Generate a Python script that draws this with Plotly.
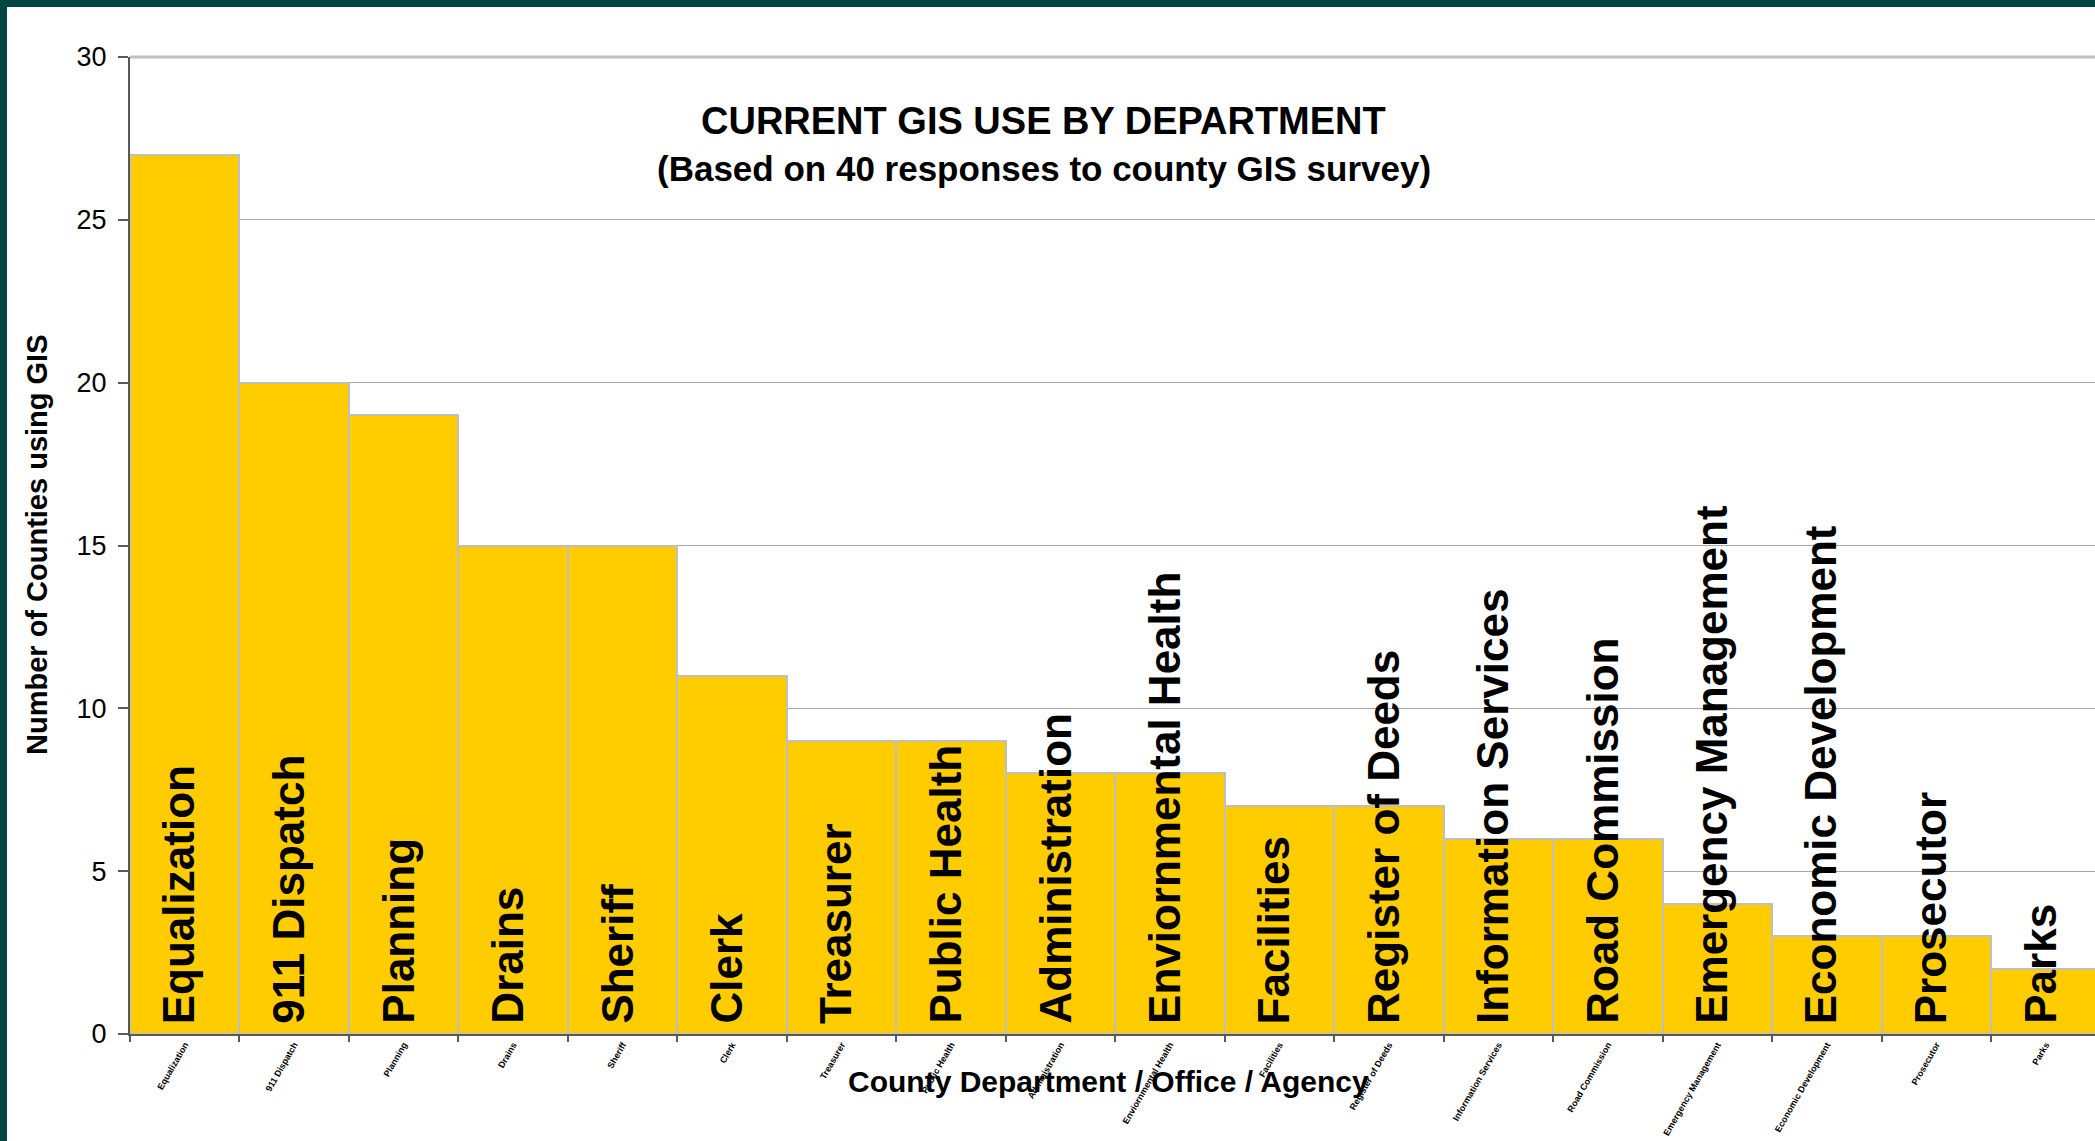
import plotly.graph_objects as go

categories = ["Equalization", "911 Dispatch", "Planning", "Drains", "Sheriff", "Clerk",
              "Treasurer", "Public Health", "Administration", "Enviornmental Health",
              "Facilities", "Register of Deeds", "Information Services", "Road Commission",
              "Emergency Management", "Economic Development", "Prosecutor", "Parks"]
counts = [27, 20, 19, 15, 15, 11, 9, 9, 8, 8, 7, 7, 6, 6, 4, 3, 3, 2]
y_ticks = [0, 5, 10, 15, 20, 25, 30]
title_line1 = "CURRENT GIS USE BY DEPARTMENT"
title_line2 = "(Based on 40 responses to county GIS survey)"
x_title = "County Department / Office / Agency"
y_title = "Number of Counties using GIS"

W, H = 2095, 1141
L, R, T, B = 130, 0, 57, 107
PW, PH = W - L - R, H - T - B
FONT = "Liberation Sans, Arial, sans-serif"
FRAME = "#00463F"

fig = go.Figure(go.Bar(
    x=categories, y=counts, width=1.0,
    marker=dict(color="#FFCC00", line=dict(color="#BFBFBF", width=2)),
))

annotations = []
for c in categories:
    annotations.append(dict(
        x=c, y=0, xref="x", yref="y", text=c, textangle=-90,
        xanchor="center", yanchor="bottom", yshift=8, xshift=-6, showarrow=False,
        font=dict(family=FONT, size=44, color="black", weight="bold"),
    ))

annotations += [
    dict(x=0.465, y=0.934, xref="paper", yref="paper", text=title_line1, showarrow=False,
         xanchor="center", yanchor="middle",
         font=dict(family=FONT, size=38, color="black", weight="bold")),
    dict(x=0.465, y=0.886, xref="paper", yref="paper", text=title_line2, showarrow=False,
         xanchor="center", yanchor="middle",
         font=dict(family=FONT, size=35, color="black", weight="bold")),
    dict(x=0.498, y=-0.049, xref="paper", yref="paper", text=x_title, showarrow=False,
         xanchor="center", yanchor="middle",
         font=dict(family=FONT, size=30, color="black", weight="bold")),
    dict(x=(37 - L) / PW, y=(1034 - 545) / PH, xref="paper", yref="paper", text=y_title,
         showarrow=False, textangle=-90, xanchor="center", yanchor="middle",
         font=dict(family=FONT, size=29, color="black", weight="bold")),
]

shapes = [
    # top border of plot area
    dict(type="line", xref="paper", yref="paper", x0=0, x1=1, y0=1, y1=1,
         line=dict(color="#C0C0C0", width=3), layer="above"),
    # dark green frame (left and top)
    dict(type="rect", xref="paper", yref="paper", x0=-L / PW, x1=(7 - L) / PW,
         y0=-B / PH - 0.01, y1=1 + T / PH + 0.01, fillcolor=FRAME, line=dict(width=0), layer="above"),
    dict(type="rect", xref="paper", yref="paper", x0=-L / PW, x1=1.01,
         y0=1 + (T - 7) / PH, y1=1 + T / PH + 0.01, fillcolor=FRAME, line=dict(width=0), layer="above"),
]

fig.update_layout(
    width=W, height=H,
    margin=dict(l=L, r=R, t=T, b=B, pad=0),
    paper_bgcolor="white", plot_bgcolor="white",
    bargap=0, showlegend=False,
    font=dict(family=FONT, color="black"),
    annotations=annotations, shapes=shapes,
    xaxis=dict(
        type="category", range=[-0.5, 17.45], showgrid=False, zeroline=False,
        showline=True, linecolor="#595959", linewidth=2,
        ticks="outside", tickson="boundaries", ticklen=6, tickcolor="#595959", tickwidth=1.5,
        tickangle=-60, tickfont=dict(size=9, color="black", family=FONT, weight="bold"),
    ),
    yaxis=dict(
        range=[0, 30], tickvals=y_ticks, showgrid=True, gridcolor="#A6A6A6", gridwidth=1,
        zeroline=False, showline=True, linecolor="#595959", linewidth=2,
        ticks="outside", ticklen=10, tickcolor="#595959", tickwidth=1.5,
        tickfont=dict(size=27, color="black", family=FONT), ticklabelstandoff=6,
    ),
)

fig.write_html("out.html", config={"displayModeBar": False},
               post_script="document.body.style.margin='0';document.body.style.overflow='hidden';")
